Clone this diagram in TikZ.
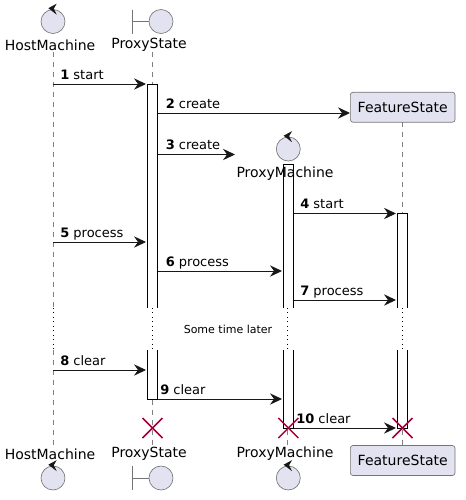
\documentclass[tikz,border=0pt]{standalone}
\usepackage{fontspec}
\setmainfont{DejaVu Sans}
\usetikzlibrary{arrows.meta}
\definecolor{partfill}{HTML}{E2E2F0}
\definecolor{partline}{HTML}{181818}
\definecolor{destroyred}{HTML}{A80036}
\newcommand{\msgnum}[1]{\textbf{#1}}

\begin{document}
\begin{tikzpicture}[x=0.75pt,y=-0.75pt,
  part/.style={draw=partline!60,line width=0.5pt,fill=partfill,rounded corners=2pt,minimum width=78.5pt,minimum height=22.5pt,inner sep=0pt,font=\fontsize{10.5}{12}\selectfont},
  head/.style={draw=partline!60,line width=0.5pt,fill=partfill,circle,minimum size=18pt,inner sep=0pt},
  partname/.style={inner sep=0pt,font=\fontsize{10.5}{12}\selectfont},
  life/.style={draw=partline!55,line width=0.4pt,dash pattern=on 3.75pt off 3.75pt},
  gap/.style={draw=black,line width=0.4pt,dash pattern=on 0.75pt off 2.6pt},
  bar/.style={draw=black,line width=0.75pt},
  msg/.style={draw=partline,line width=0.75pt,-{Stealth[length=9pt,width=8.5pt,inset=3pt]}},
  lbl/.style={inner sep=0pt,anchor=base west,font=\fontsize{9.75}{12}\selectfont},
  destroy/.style={draw=destroyred,line width=1.1pt},
  ctrl/.pic={\fill[partline] (-4.7,-1) -- (3.7,-5.5) -- (0.8,-0.5) -- (3.7,5.5) -- cycle;}]
  \useasboundingbox (0,0) rectangle (465,500);

  % lifelines
  \foreach \n/\x/\t in {host/53/52,state/152.5/52,mach/287.5/180,feat/402.5/122} {
    \coordinate (\n t) at (\x,\t);
    \coordinate (\n g) at (\x,308);
    \coordinate (\n h) at (\x,350);
    \coordinate (\n b) at (\x,445);
    \draw[life] (\n t) -- (\n g);
    \draw[gap] (\n g) -- (\n h);
    \draw[life] (\n h) -- (\n b);
  }

  % activation bars
  \foreach \n/\x/\t/\b in {sb/152.5/84.5/399,mb/288.3/164/428,fb/402.5/213.5/428} {
    \fill[white] (\x-5,\t) rectangle (\x+5,308);
    \fill[white] (\x-5,350) rectangle (\x+5,\b);
    \coordinate (\n a) at (\x-5,\t);
    \coordinate (\n c) at (\x+5,\t);
    \coordinate (\n d) at (\x-5,308);
    \coordinate (\n e) at (\x+5,308);
    \coordinate (\n f) at (\x-5,350);
    \coordinate (\n g) at (\x+5,350);
    \coordinate (\n h) at (\x-5,\b);
    \coordinate (\n i) at (\x+5,\b);
    \draw[bar] (\n d) -- (\n a) -- (\n c) -- (\n e);
    \draw[bar] (\n f) -- (\n h) -- (\n i) -- (\n g);
  }

  % participants
  \node[partname] (hostname) at (50,45) {HostMachine};
  \node[partname] (statename) at (149,45) {ProxyState};
  \node[partname] (machname) at (285,174) {ProxyMachine};
  \node[part] (featbox) at (402.7,107.2) {FeatureState};
  \node[partname] (hostnameb) at (50,454) {HostMachine};
  \node[partname] (statenameb) at (149,454) {ProxyState};
  \node[partname] (machnameb) at (285,454) {ProxyMachine};
  \node[part] (featboxb) at (402.7,460.5) {FeatureState};

  \foreach \n/\x/\y in {hosthead/53/21.5,machhead/288.3/149,hostheadb/53/478,machheadb/288.3/478} {
    \node[head] (\n) at (\x,\y) {};
    \pic at (\n.north) {ctrl};
  }
  \foreach \n/\y in {statehead/21.5,stateheadb/478} {
    \node[head] (\n) at (161,\y) {};
    \coordinate (\n e) at (132.5,\y);
    \coordinate (\n t) at (132.5,\y-12);
    \coordinate (\n b) at (132.5,\y+12);
    \draw[draw=partline!60,line width=0.5pt] (\n t) -- (\n b);
    \draw[draw=partline!60,line width=0.5pt] (\n e) -- (\n);
  }

  % messages
  \foreach \n/\a/\b/\y/\lx/\txt in {
    1/53/146/84/60/start,
    2/158/350/113/165.5/create,
    3/158/235/154.5/165.5/create,
    4/293.5/396/213.5/300/start,
    5/53/146/242/60/process,
    6/158/282/271/165.5/process,
    7/293.5/396/300/300/process,
    8/53/146/370/60/clear,
    9/158/282/399/160/clear,
    10/293.5/396/428/296/clear} {
    \coordinate (s\n) at (\a,\y);
    \coordinate (e\n) at (\b,\y);
    \draw[msg] (s\n) -- (e\n);
    \node[lbl] (l\n) at (\lx,\y-5) {\msgnum{\n} \txt};
  }

  \node[inner sep=0pt,font=\fontsize{8.25}{10}\selectfont] (later) at (228,329.5) {Some time later};

  % destroys
  \foreach \n/\x in {xs/152.5,xm/288.3,xf/402.5} {
    \coordinate (\n a) at (\x-10,418);
    \coordinate (\n b) at (\x+10,438);
    \coordinate (\n c) at (\x-10,438);
    \coordinate (\n d) at (\x+10,418);
    \draw[destroy] (\n a) -- (\n b);
    \draw[destroy] (\n c) -- (\n d);
  }
\end{tikzpicture}
\end{document}
